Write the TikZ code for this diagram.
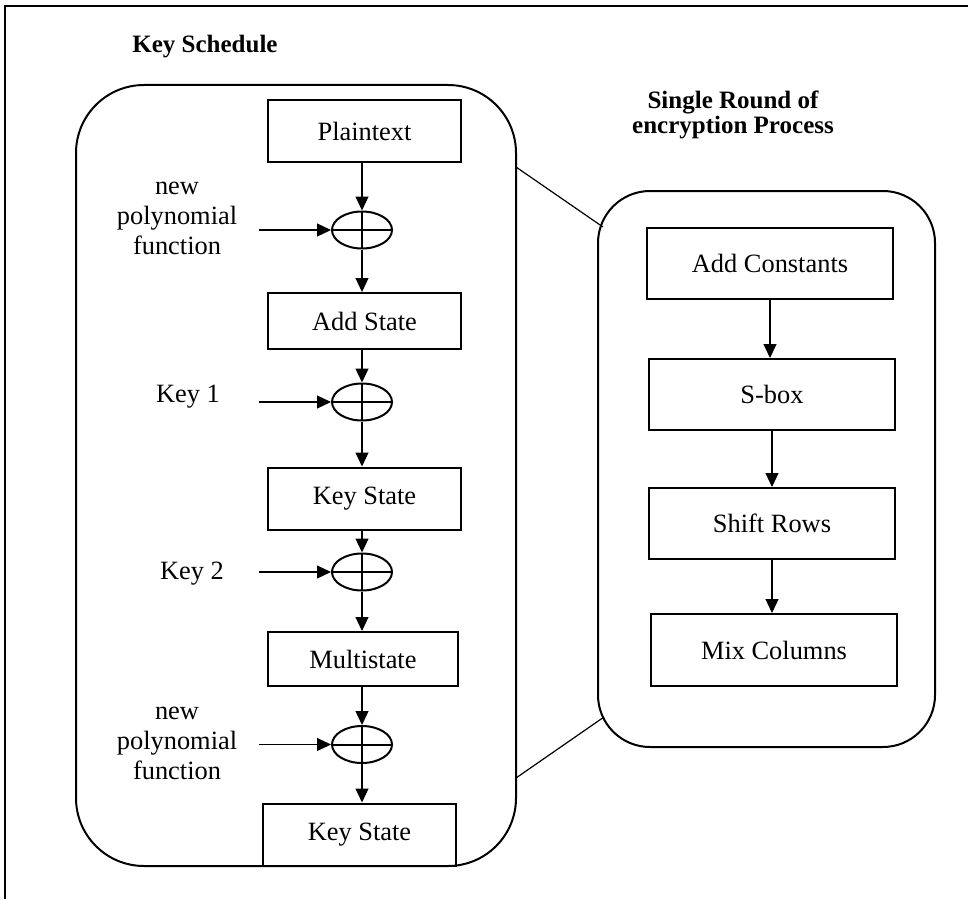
\documentclass[tikz,border=0pt]{standalone}
\usepackage{fontspec}
\setmainfont{Liberation Serif}
\usetikzlibrary{arrows.meta,shapes.geometric}

\begin{document}
\begin{tikzpicture}[x=0.5pt,y=-0.5pt,->,>={Triangle[length=7pt,width=6.5pt]},font=\fontsize{13.2}{15}\selectfont]
		\tikzstyle{block}=[draw,line width=1pt,minimum width=96.5pt,minimum height=31pt,inner sep=0pt]
		\tikzstyle{rblock}=[draw,line width=1pt,minimum width=123pt,minimum height=35.5pt,inner sep=0pt]
		\tikzstyle{xorop}=[draw,ellipse,line width=1pt,minimum width=30pt,minimum height=18.5pt,inner sep=0pt,
			path picture={\draw[-,line width=1pt] (path picture bounding box.north) -- (path picture bounding box.south)
				(path picture bounding box.west) -- (path picture bounding box.east);}]
		\tikzstyle{frame}=[draw,line width=1pt,rounded corners=34pt,inner sep=0pt]
		\tikzstyle{title}=[font=\bfseries\fontsize{12.5}{12.5}\selectfont,align=center]
		\tikzstyle{wire}=[line width=0.6pt]

		\useasboundingbox (0,0) rectangle (968,899);
		\draw[-,line width=1.2pt] (5,899) -- (5,6) -- (968,6);

		\node[frame,minimum width=220pt,minimum height=390.5pt](ksched) at (296,475.5){};
		\node[frame,rounded corners=26pt,minimum width=168.5pt,minimum height=278pt](rnd) at (766.5,469){};

		\node[title](kstitle) at (205,47){Key Schedule};
		\node[title](rtitle) at (733,115){Single Round of\\encryption Process};

		\node[block](plain) at (364.5,131){Plaintext};
		\node[block,minimum height=28pt](addst) at (364.5,321){Add State};
		\node[block](keyst) at (364.5,498.5){Key State};
		\node[block,minimum width=95pt,minimum height=27pt](multi) at (363,659){Multistate};
		\node[block](keyout) at (359.5,834.5){Key State};

		\node[xorop](xor1) at (362,230){};
		\node[xorop](xor2) at (362,402){};
		\node[xorop](xor3) at (362,572){};
		\node[xorop](xor4) at (362,744.5){};

		\node[align=center](poly1) at (177,218){new\\polynomial\\function};
		\node(key1) at (188,397){Key 1};
		\node(key2) at (192,574){Key 2};
		\node[align=center](poly2) at (177,743){new\\polynomial\\function};

		\coordinate (in1) at (259,230);
		\coordinate (in2) at (259,402);
		\coordinate (in3) at (259,572);
		\coordinate (in4) at (259,744.5);

		\draw[wire] (plain.south -| xor1.north) -- (xor1.north);
		\draw[wire] (xor1.south) -- (xor1.south |- addst.north);
		\draw[wire] (addst.south -| xor2.north) -- (xor2.north);
		\draw[wire] (xor2.south) -- (xor2.south |- keyst.north);
		\draw[wire] (keyst.south -| xor3.north) -- (xor3.north);
		\draw[wire] (xor3.south) -- (xor3.south |- multi.north);
		\draw[wire] (multi.south -| xor4.north) -- (xor4.north);
		\draw[wire] (xor4.south) -- (xor4.south |- keyout.north);

		\draw[wire] (in1) -- (xor1.west);
		\draw[wire] (in2) -- (xor2.west);
		\draw[wire] (in3) -- (xor3.west);
		\draw[wire] (in4) -- (xor4.west);

		\node[rblock](addc) at (770,263.5){Add Constants};
		\node[rblock](sbox) at (772,394.5){S-box};
		\node[rblock](shift) at (772,523.5){Shift Rows};
		\node[rblock,minimum height=36pt](mix) at (774,650){Mix Columns};

		\draw[wire] (addc.south) -- (addc.south |- sbox.north);
		\draw[wire] (sbox.south) -- (sbox.south |- shift.north);
		\draw[wire] (shift.south) -- (shift.south |- mix.north);

		\coordinate (zt1) at (516,167);
		\coordinate (zt2) at (603,227);
		\coordinate (zb1) at (516,778);
		\coordinate (zb2) at (604,717);
		\draw[-,wire] (zt1) -- (zt2);
		\draw[-,wire] (zb1) -- (zb2);
	\end{tikzpicture}
\end{document}
